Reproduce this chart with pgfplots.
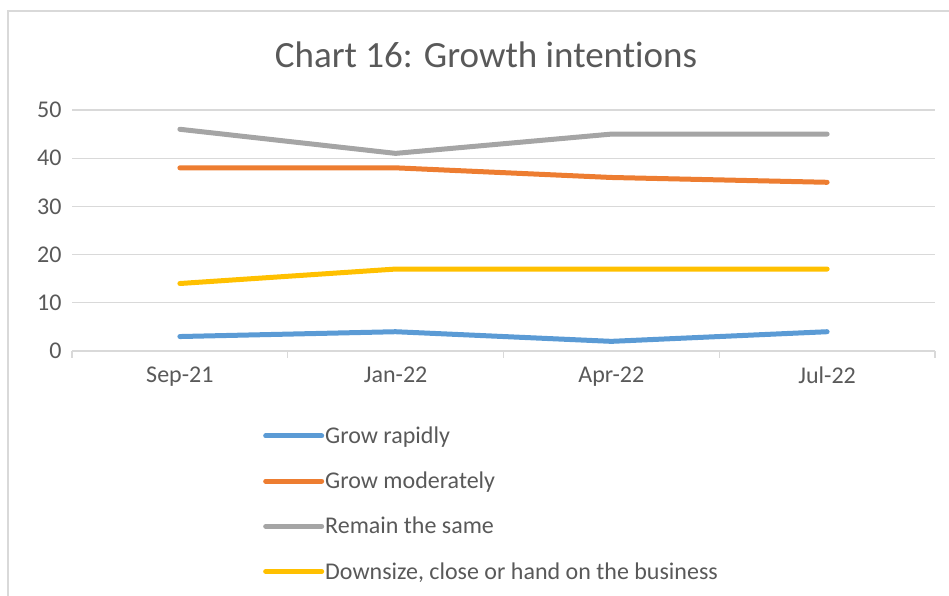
\documentclass[border=0pt]{standalone}
\usepackage{pgfplots}
\pgfplotsset{compat=1.18}
\usepackage{fontspec}
\setmainfont{Carlito}[Ligatures=CommonOff]
\definecolor{cblue}{HTML}{5B9BD5}
\definecolor{corange}{HTML}{ED7D31}
\definecolor{cgray}{HTML}{A5A5A5}
\definecolor{cyellow}{HTML}{FFC000}
\definecolor{ctext}{HTML}{595959}
\definecolor{cgrid}{HTML}{D9D9D9}
\begin{document}
\begin{tikzpicture}
\useasboundingbox (0pt,0pt) rectangle (949pt,596pt);
\draw[cgrid,line width=1.2pt] (8pt,0pt) -- (8pt,585pt) -- (949pt,585pt);
\node[text=ctext,font=\fontsize{37}{42}\selectfont] at (486pt,541pt) {Chart 16: Growth intentions};
\begin{axis}[
  at={(72pt,245pt)}, anchor=south west,
  scale only axis, width=863pt, height=241pt,
  xmin=-0.5, xmax=3.5, ymin=0, ymax=50,
  xtick={0,1,2,3},
  xticklabels={Sep-21,Jan-22,Apr-22,Jul-22},
  minor xtick={-0.5,0.5,1.5,2.5,3.5},
  ytick={0,10,20,30,40,50},
  major tick length=0pt,
  minor tick length=7pt,
  tick align=outside,
  xtick style={draw=none},
  minor x tick style={draw=cgrid,line width=1.2pt},
  ytick style={draw=none},
  ymajorgrids,
  grid style={cgrid,line width=1.2pt},
  axis x line*=bottom,
  axis y line*=left,
  x axis line style={cgrid,line width=1.2pt,-},
  y axis line style={draw=none},
  /pgf/number format/assume math mode=true,
  ticklabel style={text=ctext,font=\fontsize{24}{28}\selectfont},
  xticklabel style={yshift=-12pt},
  yticklabel style={xshift=-7pt},
  legend style={at={(0.2213,-0.31)},anchor=north west,draw=none,fill=none,
    font=\fontsize{24}{28}\selectfont,text=ctext,
    row sep=25pt, inner xsep=0pt, inner ysep=0pt,
    nodes={inner sep=1pt}},
  legend cell align=left,
  legend image code/.code={\draw[#1,line cap=round] (0pt,0pt) -- (56pt,0pt);},
  every axis plot/.append style={line width=5pt, line join=round, line cap=round},
  clip=false,
]
\addplot[cblue] coordinates {(0,3) (1,4) (2,2) (3,4)};
\addlegendentry{Grow rapidly}
\addplot[corange] coordinates {(0,38) (1,38) (2,36) (3,35)};
\addlegendentry{Grow moderately}
\addplot[cgray] coordinates {(0,46) (1,41) (2,45) (3,45)};
\addlegendentry{Remain the same}
\addplot[cyellow] coordinates {(0,14) (1,17) (2,17) (3,17)};
\addlegendentry{Downsize, close or hand on the business}
\end{axis}
\end{tikzpicture}
\end{document}
